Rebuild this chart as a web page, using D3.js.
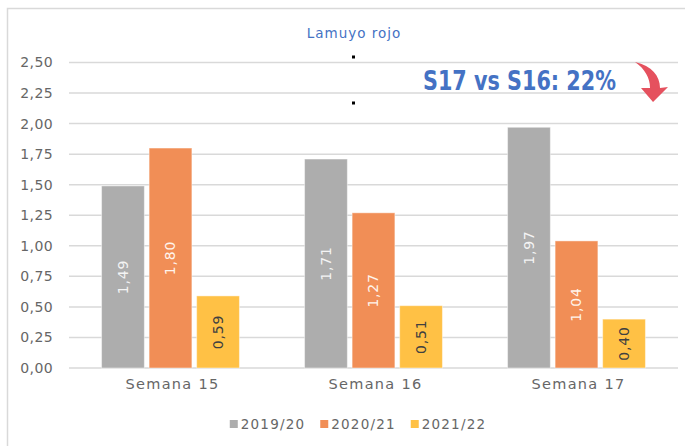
<!DOCTYPE html>
<html>
<head>
<meta charset="utf-8">
<script src="https://cdn.jsdelivr.net/npm/d3@7"></script>
<style>
  body { margin: 0; background: #fff; }
  svg text { font-family: "DejaVu Sans", sans-serif; }
</style>
</head>
<body>
<div id="chart"></div>
<script>
// data
const categories = ["Semana 15", "Semana 16", "Semana 17"];
const seasons = ["2019/20", "2020/21", "2021/22"];
const values2019 = [1.49, 1.71, 1.97];
const values2020 = [1.80, 1.27, 1.04];
const values2021 = [0.59, 0.51, 0.40];
const yTicks = [0, 0.25, 0.5, 0.75, 1, 1.25, 1.5, 1.75, 2, 2.25, 2.5];

const colors = ["#ADADAD", "#F18E56", "#FFC145"];
const labelColors = ["#F4F4F4", "#FFF4EC", "#404040"];

const width = 685, height = 446;
const margin = {top: 62.5, right: 7, bottom: 78, left: 69};

const svg = d3.select("#chart")
    .append("svg")
    .attr("width", width)
    .attr("height", height);

// chart frame (cut at right/bottom like the screenshot)
svg.append("rect")
    .attr("x", 7.5).attr("y", 8.5)
    .attr("width", 700).attr("height", 460)
    .attr("fill", "none")
    .attr("stroke", "#D9D9D9")
    .attr("stroke-width", 1.5);

const rows = categories.map((c, i) => ({
    cat: c,
    vals: [values2019[i], values2020[i], values2021[i]]
}));

const x0 = d3.scaleBand()
    .domain(categories)
    .range([margin.left, width - margin.right]);

const x1 = d3.scaleBand()
    .domain(seasons)
    .range([0, x0.bandwidth()])
    .paddingInner(0.1)
    .paddingOuter(0.685);

const y = d3.scaleLinear()
    .domain([0, 2.5])
    .range([height - margin.bottom, margin.top]);

// gridlines
svg.append("g")
    .selectAll("line")
    .data(yTicks)
    .join("line")
    .attr("x1", margin.left)
    .attr("x2", width - margin.right)
    .attr("y1", d => y(d))
    .attr("y2", d => y(d))
    .attr("stroke", "#D9D9D9")
    .attr("stroke-width", 1.5);

// y axis labels
const fmt = d => d3.format(".2f")(d).replace(".", ",");
svg.append("g")
    .selectAll("text")
    .data(yTicks)
    .join("text")
    .attr("x", 53)
    .attr("y", d => y(d))
    .attr("dy", "0.35em")
    .attr("text-anchor", "end")
    .attr("font-size", 14)
    .attr("letter-spacing", 0.4)
    .attr("fill", "#666")
    .text(fmt);

// bars
const groups = svg.append("g")
    .selectAll("g")
    .data(rows)
    .join("g")
    .attr("transform", d => `translate(${x0(d.cat)},0)`);

groups.selectAll("rect")
    .data(d => d.vals.map((v, i) => ({season: seasons[i], i: i, v: v})))
    .join("rect")
    .attr("x", d => x1(d.season))
    .attr("y", d => y(d.v))
    .attr("width", x1.bandwidth())
    .attr("height", d => y(0) - y(d.v))
    .attr("fill", d => colors[d.i])
    .attr("stroke", "#fff")
    .attr("stroke-opacity", 0.45)
    .attr("stroke-width", 1);

// value labels, rotated, centered in each bar
groups.selectAll("text")
    .data(d => d.vals.map((v, i) => ({season: seasons[i], i: i, v: v})))
    .join("text")
    .attr("transform", d => `translate(${x1(d.season) + x1.bandwidth() / 2},${(y(d.v) + y(0)) / 2}) rotate(-90)`)
    .attr("text-anchor", "middle")
    .attr("dy", "0.35em")
    .attr("font-size", 14)
    .attr("letter-spacing", 0.8)
    .attr("fill", d => labelColors[d.i])
    .text(d => fmt(d.v));

// category labels
svg.append("g")
    .selectAll("text")
    .data(categories)
    .join("text")
    .attr("x", d => x0(d) + x0.bandwidth() / 2 + 2)
    .attr("y", 389)
    .attr("text-anchor", "middle")
    .attr("font-size", 14.5)
    .attr("letter-spacing", 1.3)
    .attr("fill", "#666")
    .text(d => d);

// title
svg.append("text")
    .attr("x", 354)
    .attr("y", 38)
    .attr("text-anchor", "middle")
    .attr("font-size", 13.5)
    .attr("letter-spacing", 1)
    .attr("fill", "#4472C4")
    .text("Lamuyo rojo");

// legend
const legend = svg.append("g");
let lx = 0;
const gap = 15;
seasons.forEach((s, i) => {
    const g = legend.append("g").attr("transform", `translate(${lx},0)`);
    g.append("rect")
        .attr("x", 0).attr("y", -9)
        .attr("width", 8).attr("height", 8)
        .attr("fill", colors[i]);
    const t = g.append("text")
        .attr("x", 11)
        .attr("y", 0)
        .attr("font-size", 13.5)
        .attr("letter-spacing", 1.2)
        .attr("fill", "#666")
        .text(s);
    lx += 11 + t.node().getComputedTextLength() + gap;
});
const legendW = lx - gap;
legend.attr("transform", `translate(${358 - legendW / 2},429)`);

// annotation
svg.append("text")
    .attr("x", 423)
    .attr("y", 90)
    .attr("font-size", 27)
    .attr("font-weight", "bold")
    .attr("font-family", "'Liberation Sans Narrow', 'DejaVu Sans Condensed', sans-serif")
    .attr("fill", "#4472C4")
    .attr("textLength", 193)
    .attr("lengthAdjust", "spacingAndGlyphs")
    .text("S17 vs S16: 22%");

// curved red arrow
svg.append("path")
    .attr("d", "M635,62 C652,66 660,76 660,88 L668,87 L653,102 L641,88 L650,88 C650,78 645,69 635,62 Z")
    .attr("fill", "#E5515E");

// two stray dots from the source
svg.append("g")
    .selectAll("rect")
    .data([57, 103])
    .join("rect")
    .attr("x", 352).attr("y", d => d - 1.5)
    .attr("width", 3).attr("height", 3)
    .attr("fill", "#000");
</script>
</body>
</html>
